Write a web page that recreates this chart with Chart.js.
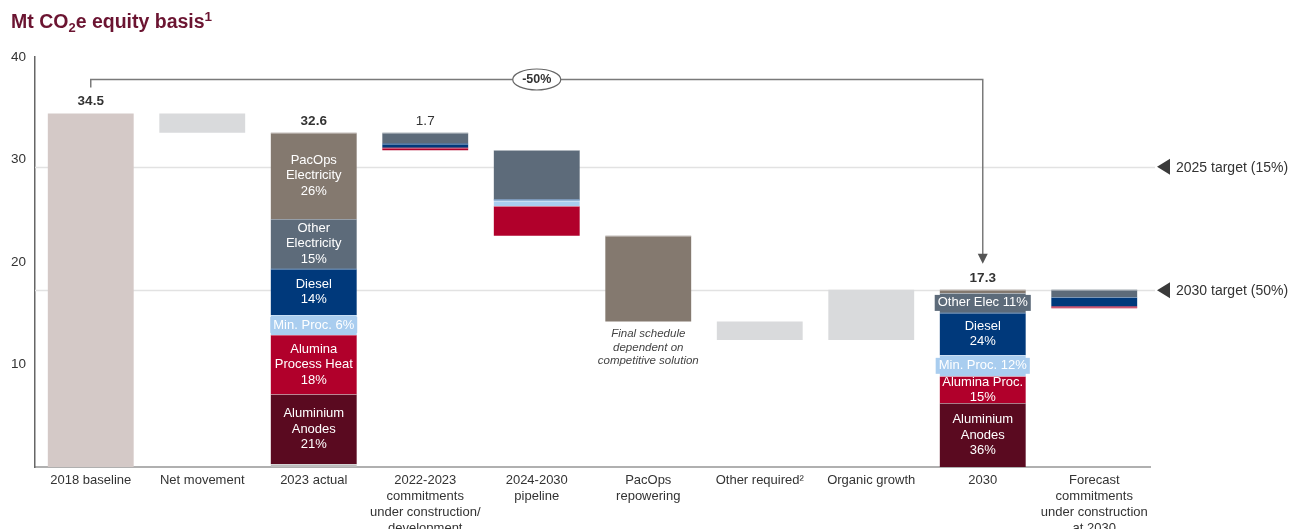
<!DOCTYPE html>
<html>
<head>
<meta charset="utf-8">
<script src="https://cdn.jsdelivr.net/npm/chart.js@4.4.1/dist/chart.umd.min.js"></script>
<style>
  html, body { margin: 0; padding: 0; background: #fff; }
  #wrap { width: 1304px; height: 529px; position: relative; }
</style>
</head>
<body>
<div id="wrap"><canvas id="chEmissions"></canvas></div>
<script>
var categories = [
  ['2018 baseline'],
  ['Net movement'],
  ['2023 actual'],
  ['2022-2023', 'commitments', 'under construction/', 'development'],
  ['2024-2030', 'pipeline'],
  ['PacOps', 'repowering'],
  ['Other required\u00b2'],
  ['Organic growth'],
  ['2030'],
  ['Forecast', 'commitments', 'under construction', 'at 2030']
];
// 'total' columns start at zero, 'step' columns float from the running level
var kinds = ['total', 'step', 'total', 'step', 'step', 'step', 'step', 'step', 'total', 'step'];

// Mt CO2e per segment (negative = reduction)
var baseline  = [34.5, null, null, null,  null,  null,  null, null, null, null];
var movement  = [null, -1.9, null, null,  null,  null,  -1.8, 4.9,  null, null];
var sliver    = [null, null, 0.3,  null,  null,  null,  null, null, null, null];
var anodes    = [null, null, 6.78, null,  null,  null,  null, null, 6.23, null];
var alumina   = [null, null, 5.81, -0.25, -2.9,  null,  null, null, 2.6,  -0.15];
var minProc   = [null, null, 1.94, null,  -0.55, null,  null, null, 2.08, null];
var diesel    = [null, null, 4.52, -0.4,  -0.12, null,  null, null, 4.15, -0.9];
var otherElec = [null, null, 4.85, -1.05, -4.78, null,  null, null, 1.9,  -0.75];
var pacOps    = [null, null, 8.40, null,  null,  -8.35, null, null, 0.34, null];

// segment captions
var anodesNote = [null, null, 'Aluminium|Anodes|21%', null, null, null, null, null, 'Aluminium|Anodes|36%', null];
var aluminaNote = [null, null, 'Alumina|Process Heat|18%', null, null, null, null, null, 'Alumina Proc.|15%', null];
var minProcNote = [null, null, 'Min. Proc. 6%', null, null, null, null, null, 'Min. Proc. 12%', null];
var dieselNote = [null, null, 'Diesel|14%', null, null, null, null, null, 'Diesel|24%', null];
var otherElecNote = [null, null, 'Other|Electricity|15%', null, null, null, null, null, 'Other Elec 11%', null];
var pacOpsNote = [null, null, 'PacOps|Electricity|26%', null, null, null, null, null, null, null];

var totalLabelAt = [0, 2, 3, 8];
var targets = [29.3, 17.25];
var targetNames = ['2025 target (15%)', '2030 target (50%)'];
var reduction = '-50%';

var series = [
  { name: 'Baseline', values: baseline, notes: null, color: '#d4c9c7' },
  { name: 'Movement', values: movement, notes: null, color: '#d9dadc' },
  { name: 'Other', values: sliver, notes: null, color: '#bdbdbd' },
  { name: 'Aluminium Anodes', values: anodes, notes: anodesNote, color: '#5a0a20' },
  { name: 'Alumina Process Heat', values: alumina, notes: aluminaNote, color: '#b1002b' },
  { name: 'Min. Proc.', values: minProc, notes: minProcNote, color: '#a9cdef' },
  { name: 'Diesel', values: diesel, notes: dieselNote, color: '#00397b' },
  { name: 'Other Electricity', values: otherElec, notes: otherElecNote, color: '#5d6b7a' },
  { name: 'PacOps Electricity', values: pacOps, notes: pacOpsNote, color: '#84796f' }
];

// build floating [start, end] pairs for every segment
var floats = series.map(function () { return []; });
var labelValues = [];
var level = 0;
for (var i = 0; i < categories.length; i++) {
  var delta = 0;
  series.forEach(function (s) { if (s.values[i] != null) delta += s.values[i]; });
  var next = kinds[i] === 'total' ? delta : level + delta;
  var cursor = kinds[i] === 'total' ? 0 : Math.min(level, next);
  series.forEach(function (s, k) {
    if (s.values[i] == null) { floats[k].push(null); return; }
    var h = Math.abs(s.values[i]);
    floats[k].push([cursor, cursor + h]);
    cursor += h;
  });
  labelValues.push({ value: Math.abs(delta), top: cursor });
  level = next;
}

var FONT = "'Liberation Sans', Arial, sans-serif";
Chart.defaults.font.family = FONT;

var overlay = {
  id: 'overlay',
  beforeDatasetsDraw: function (chart) {
    var ctx = chart.ctx, y = chart.scales.y, area = chart.chartArea;
    ctx.save();
    ctx.strokeStyle = '#e2e2e2';
    ctx.lineWidth = 1.5;
    targets.forEach(function (t) {
      var py = Math.round(y.getPixelForValue(t)) + 0.5;
      ctx.beginPath();
      ctx.moveTo(area.left, py);
      ctx.lineTo(area.right + 5, py);
      ctx.stroke();
    });
    ctx.restore();
  },
  afterDatasetsDraw: function (chart) {
    var ctx = chart.ctx, x = chart.scales.x, y = chart.scales.y, area = chart.chartArea;
    ctx.save();

    // thin light seams between stacked segments
    ctx.strokeStyle = 'rgba(255,255,255,0.35)';
    ctx.lineWidth = 1;
    series.forEach(function (s, k) {
      if (k < 2) return;
      chart.getDatasetMeta(k).data.forEach(function (bar, i) {
        if (!floats[k][i]) return;
        var py = Math.round(bar.y) + 0.5;
        ctx.beginPath();
        ctx.moveTo(bar.x - bar.width / 2, py);
        ctx.lineTo(bar.x + bar.width / 2, py);
        ctx.stroke();
      });
    });

    // captions inside segments
    ctx.textAlign = 'center';
    ctx.textBaseline = 'middle';
    ctx.font = '13px ' + FONT;
    series.forEach(function (s, k) {
      if (!s.notes) return;
      var meta = chart.getDatasetMeta(k);
      s.notes.forEach(function (note, i) {
        if (!note) return;
        var bar = meta.data[i];
        var lines = note.split('|');
        var cy = (bar.y + bar.base) / 2;
        var w = ctx.measureText(lines[0]).width;
        if (lines.length === 1 && w > bar.width - 6) {
          ctx.fillStyle = s.color;
          ctx.fillRect(bar.x - w / 2 - 3, cy - 8, w + 6, 16);
        }
        ctx.fillStyle = '#ffffff';
        lines.forEach(function (ln, j) {
          ctx.fillText(ln, bar.x, cy + (j - (lines.length - 1) / 2) * 15.5);
        });
      });
    });

    // totals above columns
    ctx.fillStyle = '#333';
    ctx.textBaseline = 'alphabetic';
    totalLabelAt.forEach(function (i) {
      var lv = labelValues[i];
      ctx.font = (kinds[i] === 'total' ? 'bold ' : '') + '13.5px ' + FONT;
      ctx.fillText(lv.value.toFixed(1), x.getPixelForValue(i), y.getPixelForValue(lv.top) - 8);
    });

    // note under the repowering step
    ctx.font = 'italic 11.5px ' + FONT;
    ctx.fillStyle = '#444';
    var px = x.getPixelForValue(5);
    var pb = y.getPixelForValue(floats[8][5][0]);
    ['Final schedule', 'dependent on', 'competitive solution'].forEach(function (ln, j) {
      ctx.fillText(ln, px, pb + 16 + j * 13.5);
    });

    // bracket from the baseline to 2030
    var x0 = x.getPixelForValue(0), x1 = x.getPixelForValue(8);
    var by = 79.5;
    ctx.strokeStyle = '#7a7a7a';
    ctx.lineWidth = 1.5;
    ctx.beginPath();
    ctx.moveTo(x0, by + 8);
    ctx.lineTo(x0, by);
    ctx.lineTo(x1, by);
    var tip = y.getPixelForValue(labelValues[8].top) - 26;
    ctx.lineTo(x1, tip - 8);
    ctx.stroke();
    ctx.fillStyle = '#555';
    ctx.beginPath();
    ctx.moveTo(x1 - 5, tip - 10);
    ctx.lineTo(x1 + 5, tip - 10);
    ctx.lineTo(x1, tip);
    ctx.closePath();
    ctx.fill();

    var ox = x.getPixelForValue(4);
    ctx.beginPath();
    ctx.ellipse(ox, by, 24, 10.5, 0, 0, Math.PI * 2);
    ctx.fillStyle = '#fff';
    ctx.fill();
    ctx.strokeStyle = '#666';
    ctx.lineWidth = 1.2;
    ctx.stroke();
    ctx.fillStyle = '#333';
    ctx.font = 'bold 12.5px ' + FONT;
    ctx.textBaseline = 'middle';
    ctx.fillText(reduction, ox, by + 0.5);

    // target markers
    ctx.textAlign = 'left';
    ctx.font = '14px ' + FONT;
    targets.forEach(function (t, j) {
      var py = y.getPixelForValue(t);
      var tx = area.right + 7;
      ctx.fillStyle = '#3a3a3a';
      ctx.beginPath();
      ctx.moveTo(tx, py);
      ctx.lineTo(tx + 13, py - 8);
      ctx.lineTo(tx + 13, py + 8);
      ctx.closePath();
      ctx.fill();
      ctx.fillStyle = '#333';
      ctx.fillText(targetNames[j], tx + 19, py + 1);
    });

    // heading with sub/superscript
    ctx.fillStyle = '#6b1431';
    ctx.textBaseline = 'alphabetic';
    var hx = 11, hy = 28;
    var parts = [['Mt CO', 19.5, 0], ['2', 13, 4], ['e equity basis', 19.5, 0], ['1', 13.5, -7]];
    parts.forEach(function (p) {
      ctx.font = 'bold ' + p[1] + 'px ' + FONT;
      ctx.fillText(p[0], hx, hy + p[2]);
      hx += ctx.measureText(p[0]).width;
    });
    ctx.restore();
  }
};

new Chart(document.getElementById('chEmissions'), {
  type: 'bar',
  data: {
    labels: categories,
    datasets: series.map(function (s, k) {
      return {
        label: s.name,
        data: floats[k],
        backgroundColor: s.color,
        borderWidth: 0,
        grouped: false,
        barPercentage: 0.77,
        categoryPercentage: 1
      };
    })
  },
  options: {
    responsive: true,
    maintainAspectRatio: false,
    animation: false,
    layout: { padding: { top: 57, right: 154, left: 0, bottom: 0 } },
    plugins: { legend: { display: false }, tooltip: { enabled: false } },
    scales: {
      x: {
        grid: { display: false, drawTicks: false },
        border: { color: '#b0b0b0', width: 2 },
        ticks: { color: '#333', font: { size: 13, lineHeight: 1.25 }, padding: 5, maxRotation: 0, autoSkip: false },
        afterFit: function (s) { s.height = 62; }
      },
      y: {
        min: 0,
        max: 40,
        grid: { display: false, drawTicks: false },
        border: { color: '#666', width: 1.5 },
        ticks: {
          stepSize: 10,
          padding: 9,
          color: '#333',
          font: { size: 13.5 },
          callback: function (v) { return v === 0 ? '' : v; }
        },
        afterFit: function (s) { s.width = 35; }
      }
    }
  },
  plugins: [overlay]
});
</script>
</body>
</html>
